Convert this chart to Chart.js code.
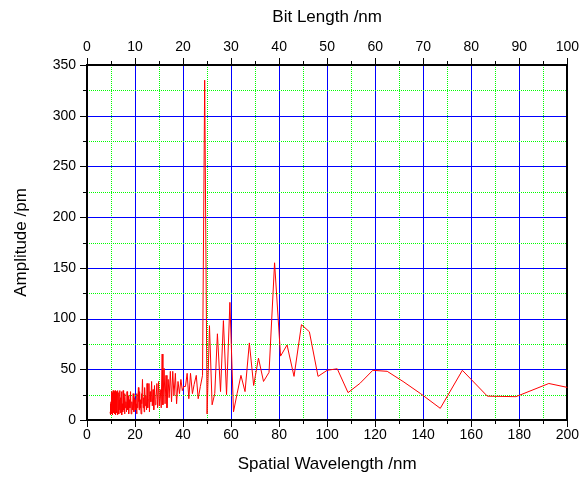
<!DOCTYPE html>
<html>
<head>
<meta charset="utf-8">
<script src="https://cdn.jsdelivr.net/npm/chart.js@4"></script>
<style>
  html, body { margin: 0; padding: 0; background: #fff; }
  #wrap { width: 582px; height: 477px; position: relative; }
</style>
</head>
<body>
<div id="wrap"><canvas id="spectrum"></canvas></div>
<script>
// spatial wavelength (nm)
var wavelength = [
  9.62, 9.69, 9.77, 9.84, 9.92, 10.0, 10.08, 10.16, 10.25, 10.33,
  10.42, 10.5, 10.59, 10.68, 10.78, 10.87, 10.96, 11.06, 11.16, 11.26,
  11.36, 11.47, 11.57, 11.68, 11.79, 11.9, 12.02, 12.14, 12.25, 12.38,
  12.5, 12.63, 12.76, 12.89, 13.02, 13.16, 13.3, 13.44, 13.59, 13.74,
  13.89, 14.04, 14.2, 14.37, 14.53, 14.71, 14.88, 15.06, 15.24, 15.43,
  15.63, 15.82, 16.03, 16.23, 16.45, 16.67, 16.89, 17.12, 17.36, 17.61,
  17.86, 18.12, 18.38, 18.66, 18.94, 19.23, 19.53, 19.84,
  20.0, 20.2, 20.3, 20.5, 20.7, 20.8, 21.0, 21.2, 21.4, 21.6,
  21.7, 21.9, 22.1, 22.3, 22.5, 22.7, 22.9, 23.1, 23.4, 23.6,
  23.8, 24.0, 24.3, 24.5, 24.8, 25.0, 25.3, 25.5, 25.8, 26.0,
  26.3, 26.6, 26.9, 27.2, 27.5, 27.8, 28.1, 28.4, 28.7, 29.1,
  29.4, 29.8, 30.1, 30.5,
  30.9, 31.3, 31.6, 32.1, 32.5, 32.9, 33.3, 33.8, 34.2, 34.7,
  35.2, 35.7, 36.2, 36.8, 37.3, 37.9, 38.5, 39.1, 39.7, 40.3,
  41.0, 41.7, 42.4, 43.1, 43.9, 44.6, 45.5, 46.3, 47.2, 48.1,
  49.0, 50.0, 51.0, 52.1, 53.2, 54.3, 55.6, 56.8, 58.1, 59.5,
  61.0, 62.5, 64.1, 65.8, 67.6, 69.4, 71.4, 73.5, 75.8, 78.1,
  80.6, 83.3, 86.2, 89.3, 92.6, 96.2, 100.0, 104.2, 108.7, 113.6,
  119.0, 125.0, 131.6, 138.9, 147.1, 156.3, 166.7, 178.6, 192.3, 208.3
];

// amplitude (pm)
var amplitude = [
  8, 16, 5, 14, 7, 18, 10, 28, 6, 22,
  12, 27, 5, 17, 9, 29, 7, 24, 11, 28,
  6, 19, 10, 29, 5, 23, 12, 28, 7, 18,
  9, 29, 5, 24, 11, 27, 6, 20, 10, 29,
  7, 22, 12, 28, 5, 16, 8, 29, 10, 22,
  6, 26, 12, 18, 8, 28, 10, 24, 6, 20,
  12, 28, 6, 18, 10, 26, 8, 22,
  14, 20, 10, 16, 6, 26, 12, 22, 32, 18,
  10, 28, 12, 20, 6, 26, 16, 40, 12, 22,
  8, 32, 14, 24, 10, 36, 12, 20, 36, 8,
  28, 18, 38, 14, 30, 10, 34, 15, 20, 36,
  12, 38, 14, 30,
  12, 65, 15, 51, 16, 44, 12, 40, 22, 48,
  18, 48, 24, 46, 16, 38, 26, 40, 29, 33,
  33, 46, 21, 46, 26, 35, 44, 21, 33, 44,
  335, 6, 93, 15, 26, 85, 28, 98, 25, 116,
  8, 26, 44, 28, 76, 34, 61, 38, 47, 155,
  63, 74, 43, 94, 87, 43, 49, 50.5, 27, 36,
  49, 48, 38, 26, 11.5, 49, 23.5, 23, 36, 28
];

// min, max, step, labelled every
var bottomTicks = [0, 200, 10, 20];
var topTicks = [0, 100, 5, 10];
var leftTicks = [0, 350, 25, 50];

var font = 'Liberation Sans, Arial, sans-serif';
var blue = '#0000ff';
var green = '#00ff00';

function label(every) {
  return function(v) { return v % every === 0 ? v : ''; };
}

function line(c, x1, y1, x2, y2) {
  c.beginPath(); c.moveTo(x1, y1); c.lineTo(x2, y2); c.stroke();
}

// blue major / green dotted minor grid, plus long & short tick marks
var gridPlugin = {
  id: 'originGrid',
  beforeDraw: function(chart) {
    var c = chart.ctx, a = chart.chartArea;
    var x = chart.scales.x, y = chart.scales.y;
    var v, p, major;
    c.save();
    c.lineWidth = 1;
    for (v = bottomTicks[0] + bottomTicks[2]; v < bottomTicks[1]; v += bottomTicks[2]) {
      p = Math.round(x.getPixelForValue(v)) + 0.5;
      major = v % bottomTicks[3] === 0;
      c.strokeStyle = major ? blue : green;
      c.setLineDash(major ? [] : [1, 1]);
      line(c, p, a.top, p, a.bottom);
    }
    for (v = leftTicks[0] + leftTicks[2]; v < leftTicks[1]; v += leftTicks[2]) {
      p = Math.round(y.getPixelForValue(v)) + 0.5;
      major = v % leftTicks[3] === 0;
      c.strokeStyle = major ? blue : green;
      c.setLineDash(major ? [] : [1, 1]);
      line(c, a.left, p, a.right, p);
    }
    c.restore();
  },
  afterDraw: function(chart) {
    var c = chart.ctx, a = chart.chartArea;
    var x = chart.scales.x, x2 = chart.scales.x2, y = chart.scales.y;
    var v, p, len;
    c.save();
    c.lineWidth = 1;
    c.strokeStyle = '#000';
    for (v = bottomTicks[0]; v <= bottomTicks[1]; v += bottomTicks[2]) {
      p = Math.round(x.getPixelForValue(v)) + 0.5;
      len = v % bottomTicks[3] === 0 ? 7 : 4;
      line(c, p, a.bottom, p, a.bottom + len);
    }
    for (v = topTicks[0]; v <= topTicks[1]; v += topTicks[2]) {
      p = Math.round(x2.getPixelForValue(v)) + 0.5;
      len = v % topTicks[3] === 0 ? 7 : 4;
      line(c, p, a.top, p, a.top - len);
    }
    for (v = leftTicks[0]; v <= leftTicks[1]; v += leftTicks[2]) {
      p = Math.round(y.getPixelForValue(v)) + 0.5;
      len = v % leftTicks[3] === 0 ? 7 : 4;
      line(c, a.left, p, a.left - len, p);
    }
    c.restore();
  }
};

var ctx = document.getElementById('spectrum');

new Chart(ctx, {
  type: 'line',
  data: {
    datasets: [{
      data: wavelength.map(function(w, i) { return {x: w, y: amplitude[i]}; }),
      borderColor: '#ff0000',
      borderWidth: 1,
      pointRadius: 0,
      tension: 0,
      fill: false
    }]
  },
  options: {
    responsive: true,
    maintainAspectRatio: false,
    animation: false,
    layout: { padding: 0 },
    plugins: { legend: { display: false }, tooltip: { enabled: false } },
    scales: {
      x: {
        type: 'linear',
        position: 'bottom',
        min: bottomTicks[0], max: bottomTicks[1],
        afterFit: function(s) { s.height = 57; },
        ticks: {
          stepSize: bottomTicks[2], autoSkip: false, maxRotation: 0, padding: 1,
          color: '#000', font: { family: font, size: 14 },
          callback: label(bottomTicks[3])
        },
        grid: { drawOnChartArea: false, tickColor: 'rgba(0,0,0,0)', tickLength: 6 },
        border: { color: '#000', width: 2 },
        title: {
          display: true, text: 'Spatial Wavelength /nm', color: '#000',
          font: { family: font, size: 17 }, padding: { top: 0, bottom: 2 }
        }
      },
      x2: {
        type: 'linear',
        position: 'top',
        min: topTicks[0], max: topTicks[1],
        afterFit: function(s) { s.height = 65; },
        ticks: {
          stepSize: topTicks[2], autoSkip: false, maxRotation: 0, padding: 3,
          color: '#000', font: { family: font, size: 14 },
          callback: label(topTicks[3])
        },
        grid: { drawOnChartArea: false, tickColor: 'rgba(0,0,0,0)', tickLength: 6 },
        border: { color: '#000', width: 2 },
        title: {
          display: true, text: 'Bit Length /nm', color: '#000',
          font: { family: font, size: 17 }, padding: { top: 7, bottom: 0 }
        }
      },
      y: {
        type: 'linear',
        position: 'left',
        min: leftTicks[0], max: leftTicks[1],
        afterFit: function(s) { s.width = 87; },
        ticks: {
          stepSize: leftTicks[2], autoSkip: false, padding: 5,
          color: '#000', font: { family: font, size: 14 },
          callback: label(leftTicks[3])
        },
        grid: { drawOnChartArea: false, tickColor: 'rgba(0,0,0,0)', tickLength: 6 },
        border: { color: '#000', width: 2 },
        title: {
          display: true, text: 'Amplitude /pm', color: '#000',
          font: { family: font, size: 17 }, padding: { top: 11, bottom: 0 }
        }
      },
      y2: {
        type: 'linear',
        position: 'right',
        min: leftTicks[0], max: leftTicks[1],
        afterFit: function(s) { s.width = 13; },
        ticks: { display: false },
        grid: { drawOnChartArea: false, drawTicks: false },
        border: { color: '#000', width: 2 }
      }
    }
  },
  plugins: [gridPlugin]
});
</script>
</body>
</html>
